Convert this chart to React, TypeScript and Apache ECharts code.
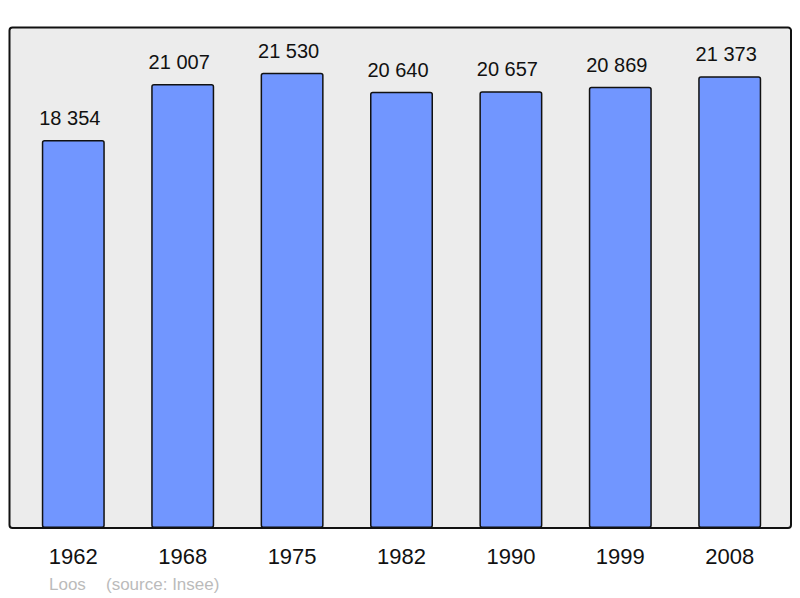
import React, { useEffect, useRef } from "react";
import * as echarts from "echarts";

const years = ["1962", "1968", "1975", "1982", "1990", "1999", "2008"];
const population = [18354, 21007, 21530, 20640, 20657, 20869, 21373];
const placeName = "Loos";
const sourceText = "(source: Insee)";

const fmt = (v: number) => String(v).replace(/\B(?=(\d{3})+(?!\d))/g, " ");
const FONT = "'Liberation Sans', Arial, sans-serif";

export default function App() {
  const ref = useRef<HTMLDivElement>(null);
  useEffect(() => {
    if (!ref.current) return;
    const chart = echarts.init(ref.current, null, { renderer: "svg" });
    chart.setOption({
      animation: false,
      backgroundColor: "#ffffff",
      textStyle: { fontFamily: FONT },
      graphic: [
        {
          type: "rect",
          z: -10,
          shape: { x: 9.5, y: 27.5, width: 781.5, height: 500.5, r: 3 },
          style: { fill: "#ececec", stroke: "#111111", lineWidth: 2 },
        },
        {
          type: "text",
          left: 49,
          top: 576,
          style: { text: placeName, fill: "#bbbbbb", font: `17px ${FONT}` },
        },
        {
          type: "text",
          left: 106,
          top: 576,
          style: { text: sourceText, fill: "#bbbbbb", font: `17px ${FONT}` },
        },
      ],
      grid: { left: 18.6, right: 800 - 784.4, top: 27, bottom: 70, containLabel: false },
      xAxis: {
        type: "category",
        data: years,
        axisLine: { show: false },
        axisTick: { show: false },
        axisLabel: { color: "#111111", fontSize: 22, margin: 17, fontFamily: FONT },
      },
      yAxis: {
        type: "value",
        min: 0,
        max: 23700,
        show: false,
        splitLine: { show: false },
      },
      series: [
        {
          type: "bar",
          data: population,
          barWidth: 63,
          itemStyle: {
            color: "#7196ff",
            borderColor: "#111111",
            borderWidth: 1.5,
            borderRadius: 2,
          },
          label: {
            show: true,
            position: "top",
            distance: 12,
            offset: [-3.5, 0],
            color: "#111111",
            fontSize: 20,
            fontFamily: FONT,
            formatter: (p: any) => fmt(p.value),
          },
        },
      ],
    });
    return () => chart.dispose();
  }, []);
  return (
    <div
      ref={ref}
      style={{ position: "fixed", left: 0, top: 0, width: 800, height: 598 }}
    />
  );
}
